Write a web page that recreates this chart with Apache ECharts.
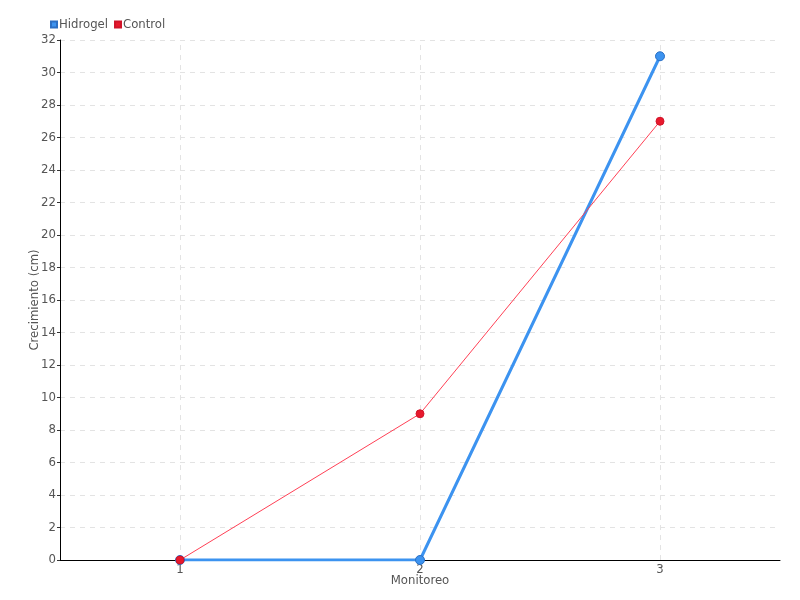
<!DOCTYPE html>
<html><head><meta charset="utf-8">
<script src="https://cdn.jsdelivr.net/npm/echarts@6/dist/echarts.min.js"></script>
<style>html,body{margin:0;padding:0;background:#fff}#c{width:800px;height:600px}</style>
</head><body><div id="c"></div>
<script>
const categories = ['1', '2', '3'];
const hidrogel = [0, 0, 31];
const control = [0, 9, 27];
const seriesNames = ['Hidrogel', 'Control'];
const xName = 'Monitoreo';
const yName = 'Crecimiento (cm)';

const FONT = '"DejaVu Sans Condensed", "Liberation Sans Narrow", sans-serif';
const chart = echarts.init(document.getElementById('c'), null, {renderer: 'canvas'});
chart.setOption({
  animation: false,
  textStyle: {fontFamily: FONT},
  legend: {
    left: 45, top: 13, itemWidth: 6, itemHeight: 6, itemGap: 6,
    icon: 'rect',
    textStyle: {fontFamily: FONT, fontSize: 13, color: '#555', padding: [0, 0, 0, -3]},
    data: seriesNames
  },
  grid: {left: 60, right: 20, top: 40, bottom: 40},
  xAxis: {
    type: 'category', data: categories, boundaryGap: true,
    name: xName, nameLocation: 'middle', nameGap: 14, nameMoveOverlap: false,
    nameTextStyle: {fontFamily: FONT, fontSize: 13, color: '#555'},
    axisLine: {lineStyle: {color: '#000', width: 1}},
    axisTick: {alignWithLabel: true, length: 5, lineStyle: {color: '#333'}},
    axisLabel: {margin: 3, fontFamily: FONT, fontSize: 13, color: '#555'},
    splitLine: {show: false}
  },
  yAxis: {
    type: 'value', min: 0, max: 32, interval: 2,
    name: yName, nameLocation: 'middle', nameGap: 19, nameMoveOverlap: false,
    nameTextStyle: {fontFamily: FONT, fontSize: 13, color: '#555'},
    axisLine: {show: true, lineStyle: {color: '#000', width: 1}},
    axisTick: {show: true, length: 3, lineStyle: {color: '#333'}},
    axisLabel: {margin: 4, fontFamily: FONT, fontSize: 13, color: '#555'},
    splitLine: {lineStyle: {color: '#e3e3e3', type: [5, 5]}}
  },
  series: [
    {
      name: seriesNames[0], type: 'line', data: hidrogel,
      symbol: 'circle', symbolSize: 9,
      itemStyle: {color: '#3c93f0', borderColor: '#2a6fc4', borderWidth: 1},
      lineStyle: {color: '#3c93f0', width: 3},
      z: 2
    },
    {
      name: seriesNames[1], type: 'line', data: control,
      symbol: 'circle', symbolSize: 8,
      itemStyle: {color: '#e8192c', borderColor: '#d0142a', borderWidth: 1},
      lineStyle: {color: '#ff4055', width: 1},
      z: 3,
      markLine: {
        silent: true, symbol: 'none', label: {show: false},
        lineStyle: {color: '#e3e3e3', type: [5, 5], width: 1},
        data: categories.map(c => ({xAxis: c})),
        z: 0
      }
    }
  ]
});
</script></body></html>
